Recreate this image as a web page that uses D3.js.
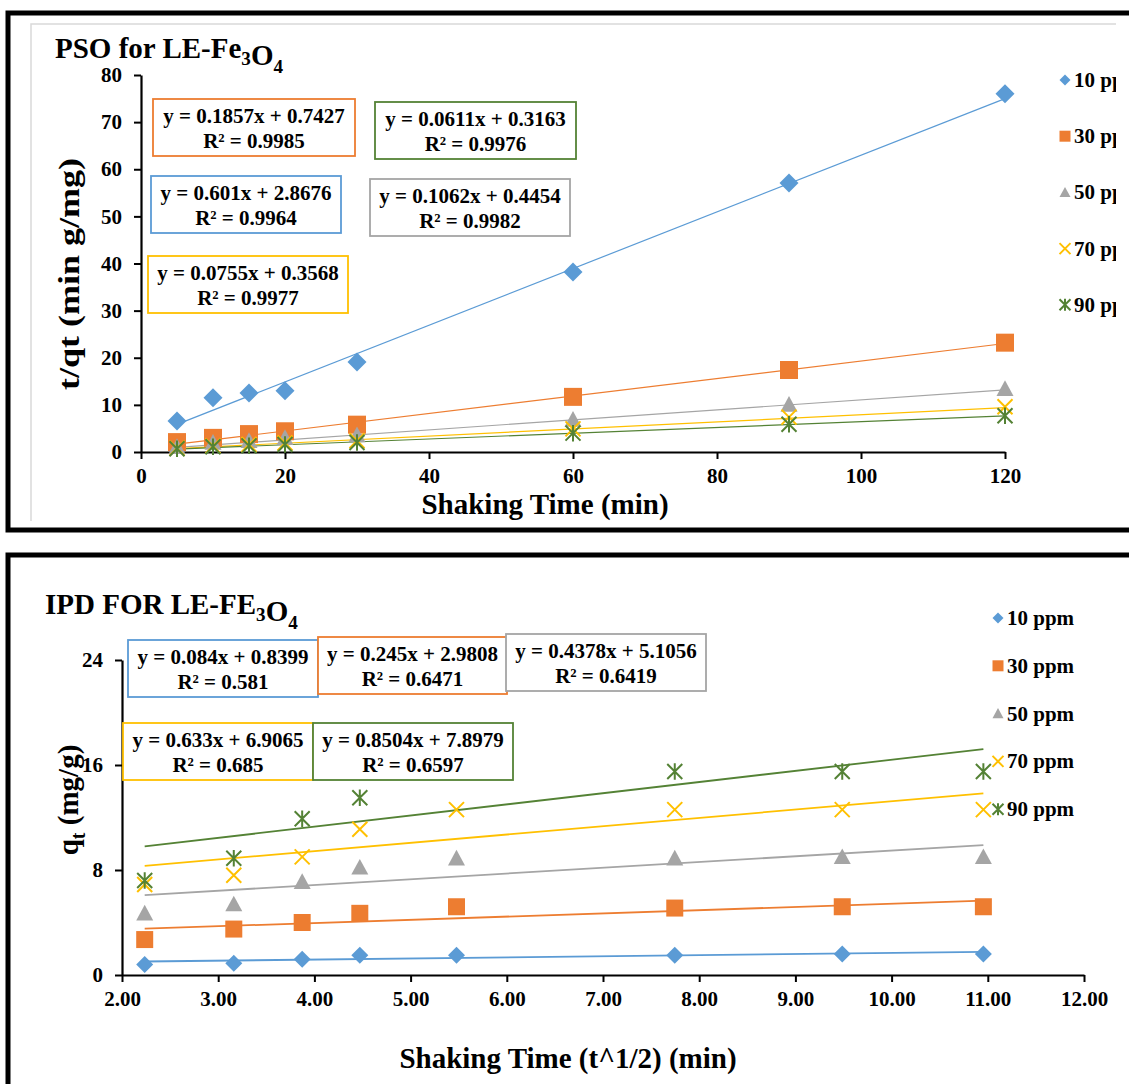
<!DOCTYPE html>
<html>
<head>
<meta charset="utf-8">
<script src="https://cdn.jsdelivr.net/npm/d3@7"></script>
<style>
  html, body { margin: 0; padding: 0; background: #fff; }
  svg { display: block; font-family: "Liberation Serif", "Times New Roman", serif; font-weight: bold; }
</style>
</head>
<body>
<svg id="chart" width="1129" height="1084"></svg>
<script>
(function () {

  // series shared by both charts
  const seriesNames = ["10 ppm", "30 ppm", "50 ppm", "70 ppm", "90 ppm"];
  const seriesColors = ["#5B9BD5", "#ED7D31", "#A5A5A5", "#FFC000", "#548235"];
  const seriesShapes = ["diamond", "square", "triangle", "cross", "star"];

  // PSO: t/qt against shaking time
  const psoTime = [5, 10, 15, 20, 30, 60, 90, 120];
  const pso10 = [6.6, 11.5, 12.5, 13.0, 19.1, 38.2, 57.1, 76.0];
  const pso30 = [2.1, 3.0, 3.8, 4.4, 5.8, 11.7, 17.4, 23.2];
  const pso50 = [1.1, 2.0, 2.4, 3.0, 3.6, 6.9, 10.1, 13.4];
  const pso70 = [0.8, 1.3, 1.6, 1.9, 2.4, 4.9, 7.4, 9.6];
  const pso90 = [0.7, 1.1, 1.3, 1.6, 2.0, 4.0, 5.9, 7.7];
  // slope, intercept, R²
  const psoFits = [[0.601, 2.8676, "0.9964"], [0.1857, 0.7427, "0.9985"], [0.1062, 0.4454, "0.9982"],
                   [0.0755, 0.3568, "0.9977"], [0.0611, 0.3163, "0.9976"]];
  const psoTicksX = [0, 20, 40, 60, 80, 100, 120];
  const psoTicksY = [0, 10, 20, 30, 40, 50, 60, 70, 80];

  // IPD: qt against square root of time
  const ipdRoot = [2.236, 3.162, 3.873, 4.472, 5.477, 7.746, 9.487, 10.954];
  const ipd10 = [0.8, 0.9, 1.2, 1.5, 1.5, 1.5, 1.6, 1.6];
  const ipd30 = [2.7, 3.5, 4.0, 4.7, 5.2, 5.1, 5.2, 5.2];
  const ipd50 = [4.7, 5.4, 7.1, 8.2, 8.9, 8.9, 9.0, 9.0];
  const ipd70 = [6.9, 7.6, 9.0, 11.1, 12.6, 12.6, 12.6, 12.6];
  const ipd90 = [7.2, 8.9, 11.9, 13.5, 15.5, 15.5, 15.5, 15.5];
  const ipdFits = [[0.084, 0.8399, "0.581"], [0.245, 2.9808, "0.6471"], [0.4378, 5.1056, "0.6419"],
                   [0.633, 6.9065, "0.685"], [0.8504, 7.8979, "0.6597"]];
  const ipdTicksX = [2, 3, 4, 5, 6, 7, 8, 9, 10, 11, 12];
  const ipdTicksY = [0, 8, 16, 24];

  const svg = d3.select("#chart");

  // the top chart's area ends just before the page edge, its legend is cut there
  svg.append("clipPath").attr("id", "topArea")
    .append("rect").attr("x", 0).attr("y", 0).attr("width", 1116).attr("height", 540);

  // outer frames
  svg.append("rect").attr("x", 8).attr("y", 13).attr("width", 1140).attr("height", 517)
    .attr("fill", "none").attr("stroke", "#000").attr("stroke-width", 5);
  svg.append("path").attr("d", "M31,521V24H1116").attr("fill", "none").attr("stroke", "#d9d9d9").attr("stroke-width", 1.5);
  svg.append("rect").attr("x", 8).attr("y", 555).attr("width", 1140).attr("height", 560)
    .attr("fill", "none").attr("stroke", "#000").attr("stroke-width", 5);

  function markerPath(shape, s) {
    const h = s / 2;
    if (shape === "diamond") return `M0,${-h}L${h},0L0,${h}L${-h},0Z`;
    if (shape === "square") return `M${-h},${-h}H${h}V${h}H${-h}Z`;
    if (shape === "triangle") return `M0,${-h}L${h},${h * 0.85}H${-h}Z`;
    if (shape === "cross") return `M${-h},${-h}L${h},${h}M${h},${-h}L${-h},${h}`;
    return `M${-h},${-h}L${h},${h}M${h},${-h}L${-h},${h}M0,${-h * 1.1}V${h * 1.1}`;
  }

  function drawMarker(g, shape, color, s, x, y) {
    const lined = shape === "cross" || shape === "star";
    g.append("path").attr("transform", `translate(${x},${y})`)
      .attr("d", markerPath(shape, s))
      .attr("fill", lined ? "none" : color)
      .attr("stroke", lined ? color : "none")
      .attr("stroke-width", lined ? 2 : 0);
  }

  function subTitle(g, x, y, parts, size) {
    const t = g.append("text").attr("x", x).attr("y", y).attr("font-size", size);
    parts.forEach(p => {
      if (p.sub) {
        t.append("tspan").attr("font-size", size * 0.66).attr("dy", size * 0.25).text(p.sub);
        t.append("tspan").attr("dy", -size * 0.25).text("");
      } else {
        t.append("tspan").text(p.t);
      }
    });
    return t;
  }

  function drawChart(cfg) {
    const g = svg.append("g");
    const x = d3.scaleLinear().domain(cfg.xDomain).range(cfg.xRange);
    const y = d3.scaleLinear().domain(cfg.yDomain).range(cfg.yRange);

    // title
    subTitle(g, cfg.titleX, cfg.titleY, cfg.title, 29);

    // axes
    const ax = g.append("g").attr("transform", `translate(0,${cfg.yRange[0]})`)
      .call(d3.axisBottom(x).tickValues(cfg.ticksX).tickSize(7).tickSizeOuter(0).tickPadding(9).tickFormat(cfg.xFormat));
    const ay = g.append("g").attr("transform", `translate(${cfg.xRange[0]},0)`)
      .call(d3.axisLeft(y).tickValues(cfg.ticksY).tickSize(7).tickSizeOuter(0).tickPadding(12).tickFormat(d3.format("d")));
    [ax, ay].forEach(a => {
      a.select(".domain").attr("stroke", "#000").attr("stroke-width", 2.2);
      a.selectAll(".tick line").attr("stroke", "#000").attr("stroke-width", 2);
      a.selectAll(".tick text").attr("font-family", "Liberation Serif").attr("font-weight", "bold")
        .attr("font-size", 21).attr("fill", "#000");
    });

    // axis titles
    g.append("text").attr("x", cfg.xLabelX).attr("y", cfg.xLabelY).attr("text-anchor", "middle")
      .attr("font-size", 29).text(cfg.xLabel);
    const yl = g.append("text").attr("transform", `translate(${cfg.yLabelX},${cfg.yLabelY}) rotate(-90)`)
      .attr("text-anchor", "middle").attr("font-size", 29);
    if (cfg.yLabelLen) yl.attr("textLength", cfg.yLabelLen).attr("lengthAdjust", "spacingAndGlyphs");
    cfg.yLabel.forEach(p => {
      if (p.sub) yl.append("tspan").attr("font-size", 20).attr("dy", 7).text(p.sub);
      else yl.append("tspan").attr("dy", p.dy || 0).text(p.t);
    });

    // trend lines
    const xs = cfg.xs;
    const x0 = d3.min(xs), x1 = d3.max(xs);
    cfg.fits.forEach((f, i) => {
      g.append("line")
        .attr("x1", x(x0)).attr("y1", y(f[0] * x0 + f[1]))
        .attr("x2", x(x1)).attr("y2", y(f[0] * x1 + f[1]))
        .attr("stroke", seriesColors[i]).attr("stroke-width", cfg.lineW);
    });

    // markers
    cfg.values.forEach((vals, i) => {
      const mg = g.append("g");
      vals.forEach((v, j) => drawMarker(mg, seriesShapes[i], seriesColors[i], cfg.markerSize[i], x(xs[j]), y(v)));
    });

    // equation boxes
    cfg.boxes.forEach(b => {
      const f = cfg.fits[b.i];
      const bg = g.append("g").attr("transform", `translate(${b.x},${b.y})`);
      bg.append("rect").attr("width", b.w).attr("height", 57).attr("fill", "#fff")
        .attr("stroke", seriesColors[b.i]).attr("stroke-width", 1.8);
      bg.append("text").attr("x", b.w / 2).attr("y", 24).attr("text-anchor", "middle").attr("font-size", 21)
        .text(`y = ${f[0]}x + ${f[1]}`);
      bg.append("text").attr("x", b.w / 2).attr("y", 49).attr("text-anchor", "middle").attr("font-size", 21)
        .text(`R² = ${f[2]}`);
    });

    // legend
    const lg = g.append("g");
    if (cfg.legendClip) lg.attr("clip-path", `url(#${cfg.legendClip})`);
    seriesNames.forEach((name, i) => {
      const ly = cfg.legendY + i * cfg.legendStep;
      drawMarker(lg, seriesShapes[i], seriesColors[i], cfg.legendMarker, cfg.legendX, ly);
      lg.append("text").attr("x", cfg.legendX + 9).attr("y", ly + 7).attr("font-size", 21).text(name);
    });
  }

  drawChart({
    xDomain: [0, 120], xRange: [141, 1005],
    yDomain: [0, 80], yRange: [452, 75],
    ticksX: psoTicksX, ticksY: psoTicksY, xFormat: d3.format("d"),
    title: [{ t: "PSO for LE-Fe" }, { sub: "3" }, { t: "O" }, { sub: "4" }],
    titleX: 55, titleY: 58,
    xLabel: "Shaking Time (min)", xLabelX: 545, xLabelY: 514,
    yLabel: [{ t: "t/qt (min g/mg)" }], yLabelX: 79, yLabelY: 274, yLabelLen: 232,
    xs: psoTime, values: [pso10, pso30, pso50, pso70, pso90], fits: psoFits,
    markerSize: [19, 18, 17, 15, 15], lineW: 1.2,
    boxes: [
      { i: 1, x: 153, y: 99, w: 202 },
      { i: 4, x: 375, y: 102, w: 201 },
      { i: 0, x: 151, y: 176, w: 190 },
      { i: 2, x: 370, y: 179, w: 200 },
      { i: 3, x: 148, y: 256, w: 200 }
    ],
    legendX: 1065, legendY: 80, legendStep: 56.2, legendMarker: 11, legendClip: "topArea"
  });

  drawChart({
    xDomain: [2, 12], xRange: [122, 1084],
    yDomain: [0, 24], yRange: [975, 660],
    ticksX: ipdTicksX, ticksY: ipdTicksY, xFormat: d3.format(".2f"),
    title: [{ t: "IPD FOR LE-FE" }, { sub: "3" }, { t: "O" }, { sub: "4" }],
    titleX: 45, titleY: 614,
    xLabel: "Shaking Time (t^1/2) (min)", xLabelX: 568, xLabelY: 1068,
    yLabel: [{ t: "q" }, { sub: "t" }, { t: " (mg/g)", dy: -7 }], yLabelX: 78, yLabelY: 800,
    xs: ipdRoot, values: [ipd10, ipd30, ipd50, ipd70, ipd90], fits: ipdFits,
    markerSize: [17, 17, 17, 15, 15], lineW: 1.8,
    boxes: [
      { i: 0, x: 128, y: 640, w: 190 },
      { i: 1, x: 318, y: 637, w: 189 },
      { i: 2, x: 506, y: 634, w: 200 },
      { i: 3, x: 123, y: 723, w: 190 },
      { i: 4, x: 313, y: 723, w: 200 }
    ],
    legendX: 998, legendY: 618, legendStep: 47.8, legendMarker: 11
  });

}());
</script>
</body>
</html>
